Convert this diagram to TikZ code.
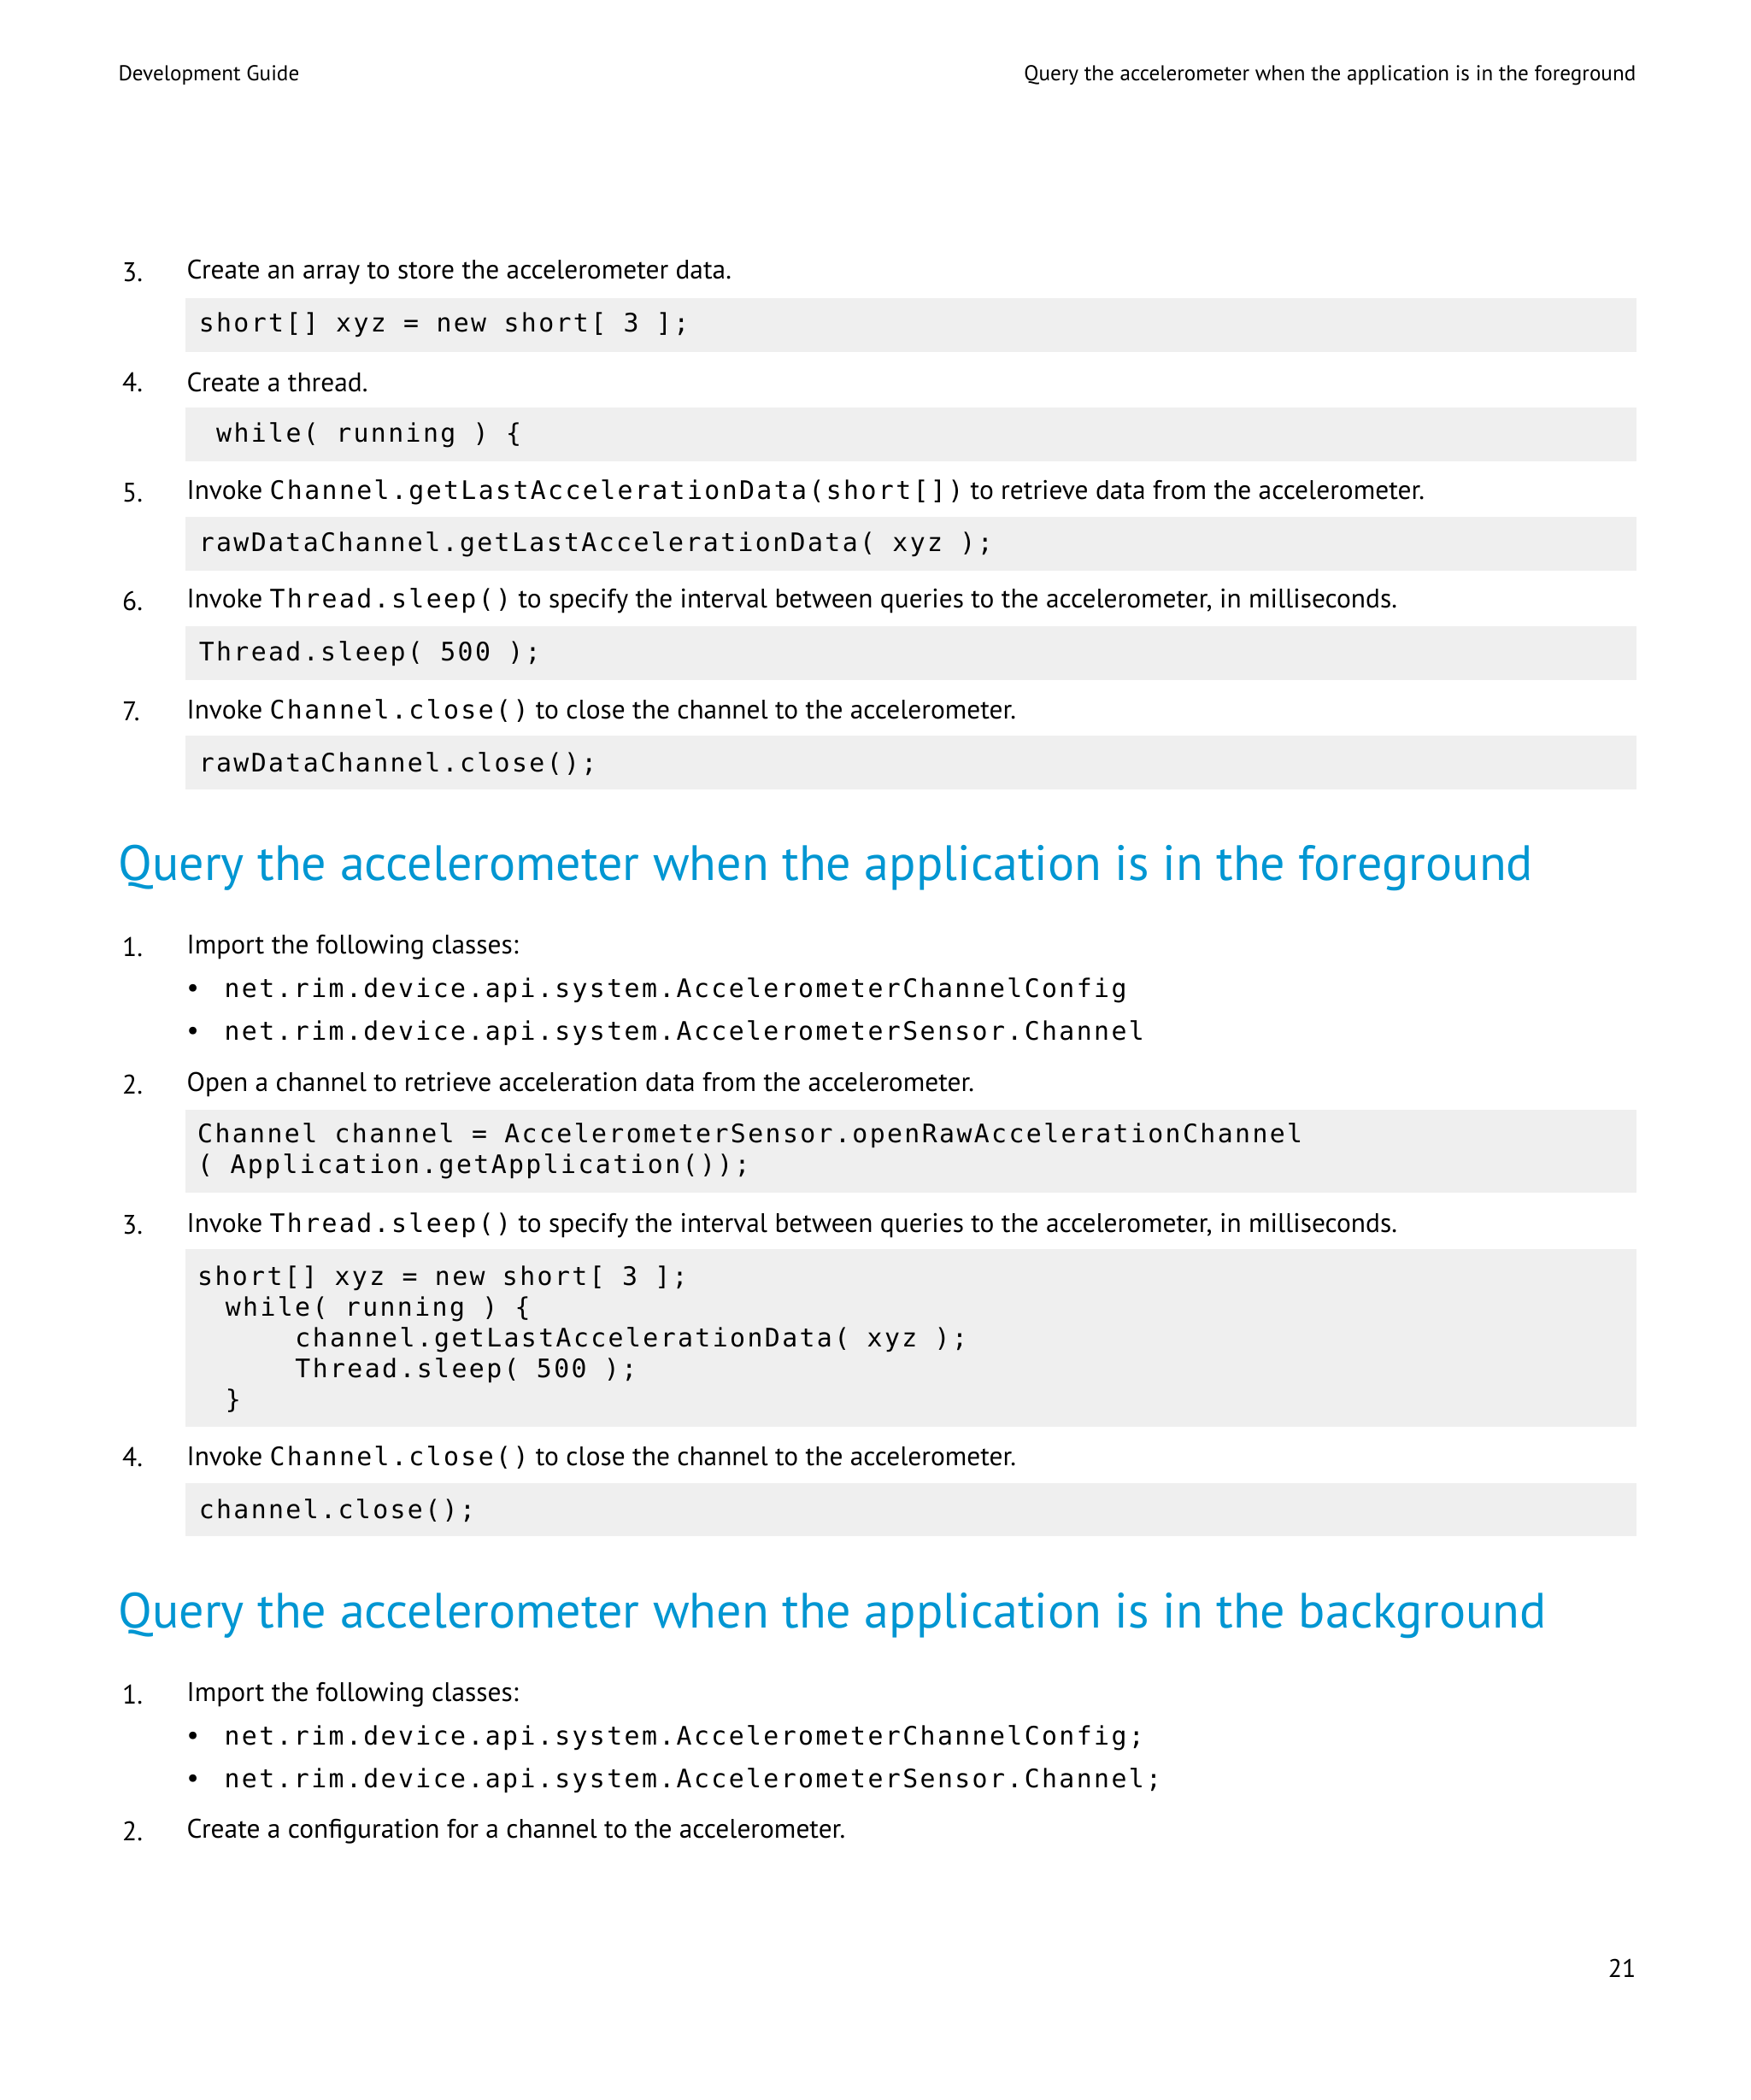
\documentclass[tikz,border=0pt]{standalone}
\usepackage{fontspec}
\setmainfont{PT Sans}
\newfontfamily\codefont[LetterSpace=8]{DejaVu Sans Mono}
\newcommand{\cd}[1]{{\codefont\fontsize{19}{23}\selectfont #1}}
\definecolor{hblue}{RGB}{0,150,210}
\definecolor{boxgray}{RGB}{239,239,239}
\tikzset{
 body/.style={anchor=west,inner sep=0pt,font=\fontsize{20}{24}\selectfont},
 code/.style={anchor=west,inner sep=0pt,align=left,font=\codefont\fontsize{19}{23}\selectfont},
 num/.style={anchor=west,inner sep=0pt,font=\fontsize{20}{24}\selectfont},
 head/.style={anchor=west,inner sep=0pt,text=hblue,font=\fontsize{37}{40}\selectfont},
 small/.style={inner sep=0pt,font=\fontsize{16}{19}\selectfont},
 cbox/.style={fill=boxgray,draw=none}
}
\begin{document}
\begin{tikzpicture}[x=1pt,y=-1pt]
\fill[white] (0,0) rectangle (1304,1565);
\useasboundingbox (0,0) rectangle (1304,1565);
\node[small,anchor=west] (hl) at (88,56) {Development Guide};
\node[small,anchor=east] (hr) at (1219,56) {Query the accelerometer when the application is in the foreground};
% boxes
\foreach \a/\b/\n in {222/262/b1,304/344/b2,385/425/b3,467/507/b4,548/588/b5,827/889/b6,931/1063/b7,1105/1145/b8}
  \fill[cbox] (138,\a) rectangle (1219,\b);
\node[num] (n3) at (91,203) {3.};
\node[body] (t3) at (139,203) {Create an array to store the accelerometer data.};
\node[code] (c3) at (148,242) {short[] xyz = new short[ 3 ];};
\node[num] (n4) at (91,285) {4.};
\node[body] (t4) at (139,285) {Create a thread.};
\node[code] (c4) at (161,324) {while( running ) \{};
\node[num] (n5) at (91,367) {5.};
\node[body] (t5) at (139,367) {Invoke \cd{Channel.getLastAccelerationData(short[])} to retrieve data from the accelerometer.};
\node[code] (c5) at (148,406) {rawDataChannel.getLastAccelerationData( xyz );};
\node[num] (n6) at (91,448) {6.};
\node[body] (t6) at (139,448) {Invoke \cd{Thread.sleep()} to specify the interval between queries to the accelerometer, in milliseconds.};
\node[code] (c6) at (148,487) {Thread.sleep( 500 );};
\node[num] (n7) at (91,530) {7.};
\node[body] (t7) at (139,530) {Invoke \cd{Channel.close()} to close the channel to the accelerometer.};
\node[code] (c7) at (148,569) {rawDataChannel.close();};
\node[head] (h1) at (88,647) {Query the accelerometer when the application is in the foreground};
\node[num] (m1) at (91,706) {1.};
\node[body] (u1) at (139,706) {Import the following classes:};
\node[body] (bl1) at (139,738) {\textbullet};
\node[code] (bc1) at (167,738) {net.rim.device.api.system.AccelerometerChannelConfig};
\node[body] (bl2) at (139,770) {\textbullet};
\node[code] (bc2) at (167,770) {net.rim.device.api.system.AccelerometerSensor.Channel};
\node[num] (m2) at (91,808) {2.};
\node[body] (u2) at (139,808) {Open a channel to retrieve acceleration data from the accelerometer.};
\node[code] (d2) at (147,858) {Channel channel = AccelerometerSensor.openRawAccelerationChannel\\( Application.getApplication());};
\node[num] (m3) at (91,913) {3.};
\node[body] (u3) at (139,913) {Invoke \cd{Thread.sleep()} to specify the interval between queries to the accelerometer, in milliseconds.};
\node[code] (d3) at (147,998) {short[] xyz = new short[ 3 ];\\\hspace*{2ex}while( running ) \{\\\hspace*{7ex}channel.getLastAccelerationData( xyz );\\\hspace*{7ex}Thread.sleep( 500 );\\\hspace*{2ex}\}};
\node[num] (m4) at (91,1086) {4.};
\node[body] (u4) at (139,1086) {Invoke \cd{Channel.close()} to close the channel to the accelerometer.};
\node[code] (d4) at (148,1126) {channel.close();};
\node[head] (h2) at (88,1204) {Query the accelerometer when the application is in the background};
\node[num] (k1) at (91,1263) {1.};
\node[body] (v1) at (139,1263) {Import the following classes:};
\node[body] (bk1) at (139,1295) {\textbullet};
\node[code] (bd1) at (167,1295) {net.rim.device.api.system.AccelerometerChannelConfig;};
\node[body] (bk2) at (139,1327) {\textbullet};
\node[code] (bd2) at (167,1327) {net.rim.device.api.system.AccelerometerSensor.Channel;};
\node[num] (k2) at (91,1365) {2.};
\node[body] (v2) at (139,1365) {Create a configuration for a channel to the accelerometer.};
\node[small,anchor=east,font=\fontsize{19}{22}\selectfont] (pg) at (1219,1467) {21};
\end{tikzpicture}
\end{document}
